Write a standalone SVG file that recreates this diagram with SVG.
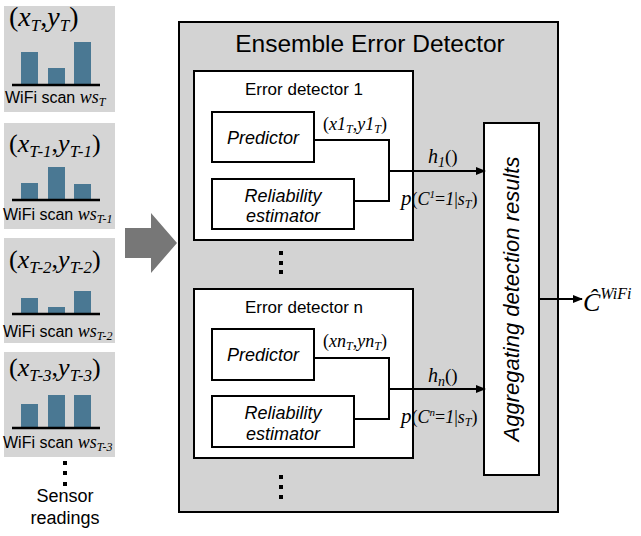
<svg xmlns="http://www.w3.org/2000/svg" width="641" height="536" viewBox="0 0 641 536">
<style>
.panel{fill:#d5d5d5;stroke:none}
.bar{fill:#4a7893}
.base{stroke:#000;stroke-width:2.5}
.math{font-family:"Liberation Serif","Times New Roman",serif;fill:#000}
.it{font-style:italic}
.sans{font-family:"Liberation Sans",Arial,sans-serif;fill:#000}
.box{fill:#fff;stroke:#000;stroke-width:2}
.line{fill:none;stroke:#000;stroke-width:2}
.dot{fill:#000}
</style>
<defs>
<marker id="ah" markerWidth="10" markerHeight="8" refX="9" refY="4" orient="auto" markerUnits="userSpaceOnUse">
<path d="M0,0 L10,4 L0,8 Z" fill="#000"/>
</marker>
</defs>
<rect width="641" height="536" fill="#fff"/>

<!-- Sensor panels -->
<g id="scan-T">
<rect class="panel" x="4" y="6" width="111" height="106"/>
<text class="math" x="9" y="26" font-size="28">(<tspan class="it">x</tspan><tspan class="it" font-size="17" dy="5">T</tspan><tspan dy="-5">,</tspan><tspan class="it">y</tspan><tspan class="it" font-size="17" dy="5">T</tspan><tspan dy="-5">)</tspan></text>
<rect class="bar" x="21" y="52" width="17" height="33"/>
<rect class="bar" x="48" y="68" width="17" height="17"/>
<rect class="bar" x="74" y="42" width="17" height="43"/>
<line class="base" x1="12" y1="85" x2="100" y2="85"/>
<text class="sans" x="5" y="103" font-size="16">WiFi scan <tspan class="math it" font-size="18">ws</tspan><tspan class="math it" font-size="12" dy="3">T</tspan></text>
</g>
<g id="scan-T1">
<rect class="panel" x="4" y="123" width="111" height="106"/>
<text class="math" x="9" y="152" font-size="26">(<tspan class="it">x</tspan><tspan class="it" font-size="17" dy="5">T-1</tspan><tspan dy="-5">,</tspan><tspan class="it">y</tspan><tspan class="it" font-size="17" dy="5">T-1</tspan><tspan dy="-5">)</tspan></text>
<rect class="bar" x="21" y="183" width="17" height="17"/>
<rect class="bar" x="48" y="167" width="17" height="33"/>
<rect class="bar" x="74" y="184" width="17" height="16"/>
<line class="base" x1="12" y1="200" x2="100" y2="200"/>
<text class="sans" x="3" y="220" font-size="16">WiFi scan <tspan class="math it" font-size="18">ws</tspan><tspan class="math it" font-size="12" dy="3">T-1</tspan></text>
</g>
<g id="scan-T2">
<rect class="panel" x="4" y="238" width="111" height="105"/>
<text class="math" x="9" y="268" font-size="26">(<tspan class="it">x</tspan><tspan class="it" font-size="17" dy="5">T-2</tspan><tspan dy="-5">,</tspan><tspan class="it">y</tspan><tspan class="it" font-size="17" dy="5">T-2</tspan><tspan dy="-5">)</tspan></text>
<rect class="bar" x="21" y="298" width="17" height="16"/>
<rect class="bar" x="48" y="307" width="17" height="7"/>
<rect class="bar" x="74" y="291" width="17" height="23"/>
<line class="base" x1="12" y1="314" x2="100" y2="314"/>
<text class="sans" x="3" y="337" font-size="16">WiFi scan <tspan class="math it" font-size="18">ws</tspan><tspan class="math it" font-size="12" dy="3">T-2</tspan></text>
</g>
<g id="scan-T3">
<rect class="panel" x="4" y="352" width="111" height="105"/>
<text class="math" x="9" y="376" font-size="26">(<tspan class="it">x</tspan><tspan class="it" font-size="17" dy="5">T-3</tspan><tspan dy="-5">,</tspan><tspan class="it">y</tspan><tspan class="it" font-size="17" dy="5">T-3</tspan><tspan dy="-5">)</tspan></text>
<rect class="bar" x="21" y="404" width="17" height="24"/>
<rect class="bar" x="48" y="395" width="17" height="33"/>
<rect class="bar" x="74" y="395" width="17" height="33"/>
<line class="base" x1="12" y1="428" x2="100" y2="428"/>
<text class="sans" x="3" y="448" font-size="16">WiFi scan <tspan class="math it" font-size="18">ws</tspan><tspan class="math it" font-size="12" dy="3">T-3</tspan></text>
</g>
<g id="sensor-readings">
<rect class="dot" x="63" y="461" width="4" height="4"/>
<rect class="dot" x="63" y="471" width="4" height="4"/>
<rect class="dot" x="63" y="482" width="4" height="4"/>
<text class="sans" x="65" y="502" font-size="18" text-anchor="middle">Sensor</text>
<text class="sans" x="65" y="524" font-size="18" text-anchor="middle">readings</text>
</g>

<!-- Big arrow -->
<g id="input-arrow">
<path d="M125,228 L151,228 L151,213 L177,243 L151,273 L151,258 L125,258 Z" fill="#777"/>
</g>

<!-- Ensemble -->
<g id="ensemble">
<rect x="179" y="22" width="379" height="490" fill="#d3d3d3" stroke="#000" stroke-width="2"/>
<text class="sans" x="370" y="52" font-size="24.5" text-anchor="middle">Ensemble Error Detector</text>
</g>

<g id="detector-1">
<rect class="box" x="194" y="71" width="219" height="169"/>
<text class="sans" x="304" y="95" font-size="17" text-anchor="middle">Error detector 1</text>
</g>
<g id="predictor-1">
<rect class="box" x="212" y="112" width="102" height="50"/>
<text class="sans it" x="263" y="144" font-size="18" text-anchor="middle">Predictor</text>
</g>
<g id="reliability-1">
<rect class="box" x="212" y="179" width="142" height="50"/>
<text class="sans it" x="283" y="202" font-size="18" text-anchor="middle">Reliability</text>
<text class="sans it" x="283" y="222" font-size="18" text-anchor="middle">estimator</text>
</g>

<g id="dots-mid">
<rect class="dot" x="279" y="251" width="4" height="4"/>
<rect class="dot" x="279" y="261" width="4" height="4"/>
<rect class="dot" x="279" y="270" width="4" height="4"/>
</g>

<g id="detector-n">
<rect class="box" x="194" y="289" width="219" height="169"/>
<text class="sans" x="304" y="313" font-size="17" text-anchor="middle">Error detector n</text>
</g>
<g id="predictor-n">
<rect class="box" x="212" y="329" width="102" height="51"/>
<text class="sans it" x="263" y="361" font-size="18" text-anchor="middle">Predictor</text>
</g>
<g id="reliability-n">
<rect class="box" x="212" y="396" width="142" height="51"/>
<text class="sans it" x="283" y="419" font-size="18" text-anchor="middle">Reliability</text>
<text class="sans it" x="283" y="440" font-size="18" text-anchor="middle">estimator</text>
</g>

<g id="dots-bottom">
<rect class="dot" x="279" y="475" width="4" height="4"/>
<rect class="dot" x="279" y="485" width="4" height="4"/>
<rect class="dot" x="279" y="495" width="4" height="4"/>
</g>

<g id="aggregator">
<rect class="box" x="484" y="123" width="55" height="352"/>
<text class="sans it" transform="translate(519,299) rotate(-90)" font-size="22" text-anchor="middle">Aggregating detection results</text>
</g>

<g id="output">
<text class="math it" x="583" y="311" font-size="26">Ĉ<tspan font-size="16" dy="-12">WiFi</tspan></text>
</g>

<!-- Connectors -->
<g id="connectors">
<path class="line" d="M314,140 L389,140 L389,201 L354,201"/>
<path class="line" d="M389,171 L485,171" marker-end="url(#ah)"/>
<path class="line" d="M314,358 L389,358 L389,419 L354,419"/>
<path class="line" d="M389,389 L485,389" marker-end="url(#ah)"/>
<path class="line" d="M539,299 L582,299" marker-end="url(#ah)"/>
</g>

<g id="connector-labels">
<text class="math" x="323" y="130" font-size="18">(<tspan class="it">x1</tspan><tspan class="it" font-size="12" dy="3">T</tspan><tspan dy="-3">,</tspan><tspan class="it">y1</tspan><tspan class="it" font-size="12" dy="3">T</tspan><tspan dy="-3">)</tspan></text>
<text class="math it" x="428" y="163" font-size="20">h<tspan font-size="14" dy="4">1</tspan><tspan class="math" font-style="normal" font-size="19" dy="-4">()</tspan></text>
<text class="math" x="401" y="205" font-size="18"><tspan class="it" font-size="21">p</tspan>(<tspan class="it">C</tspan><tspan class="it" font-size="11" dy="-7">1</tspan><tspan dy="7">=</tspan><tspan class="it">1</tspan>|<tspan class="it">s</tspan><tspan class="it" font-size="12" dy="3">T</tspan><tspan dy="-3">)</tspan></text>

<text class="math" x="323" y="347" font-size="18">(<tspan class="it">xn</tspan><tspan class="it" font-size="12" dy="3">T</tspan><tspan dy="-3">,</tspan><tspan class="it">yn</tspan><tspan class="it" font-size="12" dy="3">T</tspan><tspan dy="-3">)</tspan></text>
<text class="math it" x="428" y="382" font-size="20">h<tspan font-size="14" dy="4">n</tspan><tspan class="math" font-style="normal" font-size="19" dy="-4">()</tspan></text>
<text class="math" x="401" y="423" font-size="18"><tspan class="it" font-size="21">p</tspan>(<tspan class="it">C</tspan><tspan class="it" font-size="11" dy="-7">n</tspan><tspan dy="7">=</tspan><tspan class="it">1</tspan>|<tspan class="it">s</tspan><tspan class="it" font-size="12" dy="3">T</tspan><tspan dy="-3">)</tspan></text>
</g>
</svg>
